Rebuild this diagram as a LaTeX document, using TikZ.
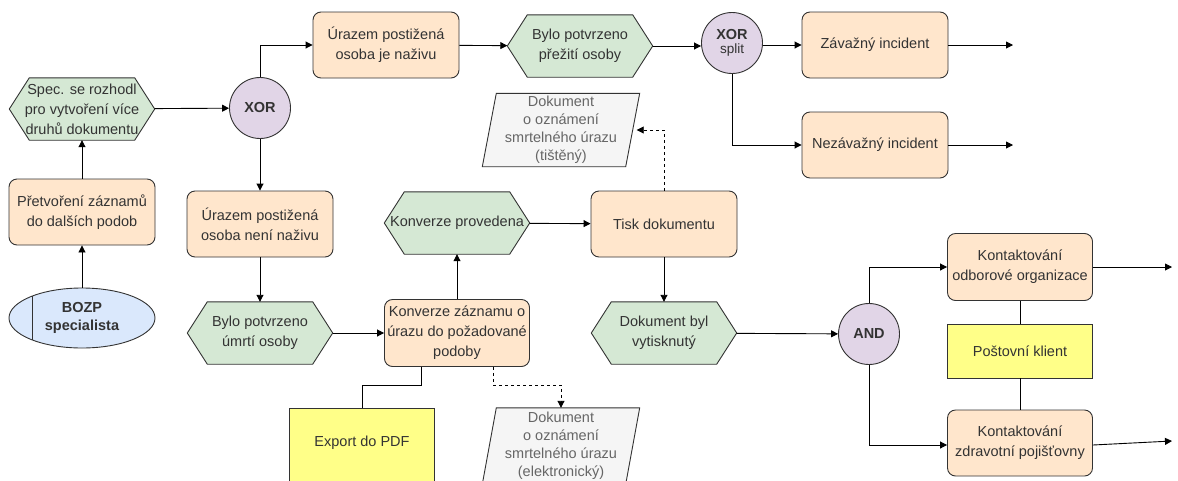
\documentclass[tikz,border=0pt]{standalone}
\usepackage{fontspec}
\setmainfont{Liberation Sans}
\usetikzlibrary{arrows.meta,backgrounds,shapes.geometric}

\definecolor{taskfill}{HTML}{FFE6CC}
\definecolor{eventfill}{HTML}{D5E8D4}
\definecolor{gatefill}{HTML}{E1D5E7}
\definecolor{rolefill}{HTML}{DAE8FC}
\definecolor{sysfill}{HTML}{FFFF88}
\definecolor{docfill}{HTML}{F5F5F5}
\definecolor{edge}{HTML}{333333}
\definecolor{txt}{HTML}{333333}
\definecolor{doctxt}{HTML}{666666}

\tikzset{
  x=1pt, y=-1pt,
  every node/.style={font=\fontsize{14.5}{20}\selectfont, text=txt, align=center, inner sep=0pt},
  task/.style={draw=edge, fill=taskfill, line width=0.9pt, rounded corners=8pt,
    minimum width=146pt, minimum height=66pt},
  event/.style={minimum width=145pt, minimum height=62pt},
  hexline/.style={draw=edge, fill=eventfill, line width=0.9pt, line join=miter},
  gate/.style={circle, draw=edge, fill=gatefill, line width=0.9pt, minimum size=61pt,
    font=\fontsize{14.5}{16}\selectfont\bfseries},
  sysbox/.style={draw=edge, fill=sysfill, line width=0.9pt},
  docnode/.style={minimum width=157pt, minimum height=73pt, text=doctxt,
    font=\fontsize{14.5}{18}\selectfont},
  docline/.style={draw=edge, fill=docfill, line width=0.9pt},
  flow/.style={draw=black, line width=0.9pt, -{Triangle[length=7pt,width=7pt]}},
  assoc/.style={draw=black, line width=0.9pt},
  infoflow/.style={draw=black, line width=0.9pt, dashed, dash pattern=on 3pt off 3pt,
    -{Triangle[length=7pt,width=7pt]}},
}

% hexagon drawn around a rectangular event node
\newcommand{\hexaround}[1]{%
  \path[hexline] ([xshift=20pt]#1.north west) -- ([xshift=-20pt]#1.north east) -- (#1.east)
    -- ([xshift=-20pt]#1.south east) -- ([xshift=20pt]#1.south west) -- (#1.west) -- cycle;}
% slanted document around a rectangular node
\newcommand{\docaround}[1]{%
  \path[docline] ([xshift=14pt]#1.north west) -- (#1.north east)
    -- ([xshift=-14pt]#1.south east) -- (#1.south west) -- cycle;}

\begin{document}
\begin{tikzpicture}
\useasboundingbox (0,0) rectangle (1178,480);

% left column
\node[ellipse, draw=edge, fill=rolefill, line width=0.9pt, minimum width=146pt, minimum height=60pt,
  font=\fontsize{14.5}{18}\selectfont\bfseries] (bozp) at (82,318) {BOZP\\specialista};
\draw[edge, line width=0.9pt] (32,296) -- (32,340);
\node[task] (pretv) at (82,212) {Přetvoření záznamů\\do dalších podob};
\node[event] (spec) at (82,109) {Spec. se rozhodl\\pro vytvoření více\\druhů dokumentu};

% first gateway and its branches
\node[gate] (xor1) at (260,108) {XOR};
\node[task] (ziv) at (386,45) {Úrazem postižená\\osoba je naživu};
\node[event] (prezit) at (580,46) {Bylo potvrzeno\\přežití osoby};
\node[gate] (xor2) at (732,43) {XOR\\[-2pt]{\fontsize{13.5}{15}\selectfont\mdseries split}};
\node[task] (zav) at (875,45) {Závažný incident};
\node[task] (nezav) at (875,145) {Nezávažný incident};
\coordinate (zavend) at (1013,45);
\coordinate (nezavend) at (1013,145);

\node[task] (neziv) at (260,224) {Úrazem postižená\\osoba není naživu};
\node[event] (umrti) at (260,333) {Bylo potvrzeno\\úmrtí osoby};
\node[task, minimum width=145pt, minimum height=67pt] (konv) at (457,333) {Konverze záznamu o\\úrazu do požadované\\podoby};
\node[event] (provedena) at (457,223) {Konverze provedena};
\node[task] (tisk) at (664,224) {Tisk dokumentu};
\node[event] (vytisk) at (664,333) {Dokument byl\\vytisknutý};

\node[docnode] (doctisk) at (561,130) {Dokument\\o oznámení\\smrtelného úrazu\\(tištěný)};
\node[docnode, minimum height=76pt] (docel) at (561,446) {Dokument\\o oznámení\\smrtelného úrazu\\(elektronický)};

\node[sysbox, minimum width=145pt, minimum height=90pt, anchor=north] (pdf) at (362,408) {};
\node at (362,443) {Export do PDF};

% second gateway and notifications
\node[gate] (and) at (869,334) {AND};
\node[task, minimum width=145pt, minimum height=67pt] (odbor) at (1020,267) {Kontaktování\\odborové organizace};
\node[sysbox, minimum width=145pt, minimum height=54pt] (posta) at (1020,351) {Poštovní klient};
\node[task, minimum width=145pt, minimum height=66pt] (zdrav) at (1020,443) {Kontaktování\\zdravotní pojišťovny};
\coordinate (odborend) at (1172,267);
\coordinate (zdravend) at (1172,441);

\begin{scope}[on background layer]
  \fill[white] (0,0) rectangle (1178,480);
  \hexaround{spec}
  \hexaround{prezit}
  \hexaround{umrti}
  \hexaround{provedena}
  \hexaround{vytisk}
  \docaround{doctisk}
  \docaround{docel}
\end{scope}

% control flow
\draw[flow] (bozp) -- (pretv);
\draw[flow] (pretv) -- (spec);
\draw[flow] (spec) -- (xor1);
\draw[flow] (xor1.north) |- (ziv.west);
\draw[flow] (xor1) -- (neziv);
\draw[flow] (ziv) -- (prezit);
\draw[flow] (prezit.east) -- (xor2.west |- prezit.east);
\draw[flow] (xor2.east |- zav.west) -- (zav.west);
\draw[flow] (xor2.south) |- (nezav.west);
\draw[flow] (zav) -- (zavend);
\draw[flow] (nezav) -- (nezavend);
\draw[flow] (neziv) -- (umrti);
\draw[flow] (umrti) -- (konv);
\draw[flow] (konv) -- (provedena);
\draw[flow] (provedena) -- (tisk);
\draw[flow] (tisk) -- (vytisk);
\draw[flow] (vytisk) -- (and);
\draw[flow] (and.north) |- (odbor.west);
\draw[flow] (and.south) |- ([yshift=-2pt]zdrav.west);
\draw[flow] (odbor) -- (odborend);
\draw[flow] ([yshift=-2pt]zdrav.east) -- (zdravend);

% information flows
\draw[infoflow] (tisk.north) |- ([xshift=-3pt]doctisk.east);
\draw[infoflow] ([xshift=36pt]konv.south) -- ++(0,18) -| (docel.north);

% resources
\draw[assoc] ([xshift=-36pt]konv.south) -- ++(0,18) -| (pdf.north);
\draw[assoc] (odbor) -- (posta);
\draw[assoc] (posta) -- (zdrav);
\end{tikzpicture}
\end{document}
